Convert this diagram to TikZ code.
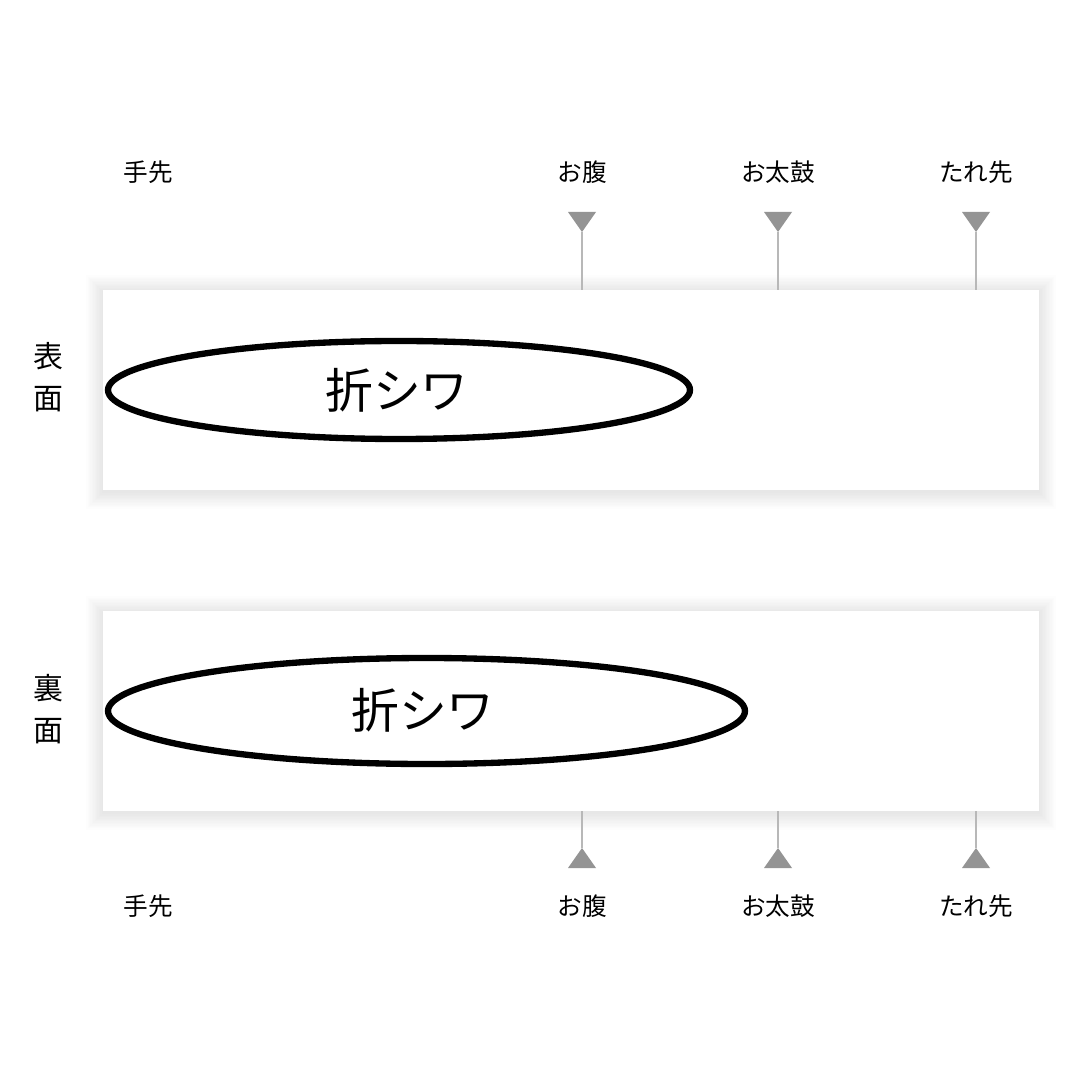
\documentclass[tikz,border=0pt]{standalone}
\usepackage{fontspec}
\newfontfamily\jp{Noto Sans CJK JP}
\tikzset{
  strip/.style={fill=white,draw=none},
  haze/.style={fill=black,fill opacity=0.009,draw=none},
  crease/.style={draw=black,line width=1.8pt},
  spot/.style={font=\jp\fontsize{7}{8}\selectfont,text=black},
  sidelabel/.style={font=\jp\fontsize{8.5}{12}\selectfont,align=center,text=black},
  marker/.style={fill=black!42,draw=none},
  stem/.style={draw=black!28,line width=0.5pt}
}
\begin{document}
\begin{tikzpicture}[x=0.01cm,y=-0.01cm,line join=round]
\useasboundingbox[fill=white] (0,0) rectangle (1080,1080);

% strips with a soft shadow
\foreach \i in {1,...,12}{
  \path[haze] (103-1.4*\i,290-1.4*\i+2) rectangle (1039+1.4*\i,490+1.4*\i+2);
  \path[haze] (103-1.4*\i,611-1.4*\i+2) rectangle (1039+1.4*\i,811+1.4*\i+2);
}
\path[strip] (103,290) rectangle (1039,490);
\path[strip] (103,611) rectangle (1039,811);
\coordinate (top) at (0,290);
\coordinate (bot) at (0,811);

% crease marks
\draw[crease] (399,390) ellipse (291 and 49);
\node[font=\jp\fontsize{13.6}{16}\selectfont] (creaseA) at (397,390) {折シワ};
\draw[crease] (426.5,711) ellipse (318.5 and 53);
\node[font=\jp\fontsize{13.6}{16}\selectfont] (creaseB) at (423,710) {折シワ};

% sides
\node[sidelabel] (front) at (48,377) {表\\面};
\node[sidelabel] (back) at (48,709) {裏\\面};

% positions along the obi
\node[spot] (teA) at (148,172) {手先};
\node[spot] (teB) at (148,906) {手先};
\foreach \x/\n/\t in {582/hara/お腹,778/taiko/お太鼓,976/tare/たれ先}{
  \node[spot] (\n A) at (\x,172) {\t};
  \node[spot] (\n B) at (\x,906) {\t};
  \coordinate (\n tipA) at (\x,232);
  \coordinate (\n tipB) at (\x,848);
  \draw[stem] (\n tipA) -- (\n tipA |- top);
  \draw[stem] (\n tipB) -- (\n tipB |- bot);
  \fill[marker] (\x-14,212) -- (\x+14,212) -- (\n tipA) -- cycle;
  \fill[marker] (\x-14,868) -- (\x+14,868) -- (\n tipB) -- cycle;
}
\end{tikzpicture}
\end{document}
